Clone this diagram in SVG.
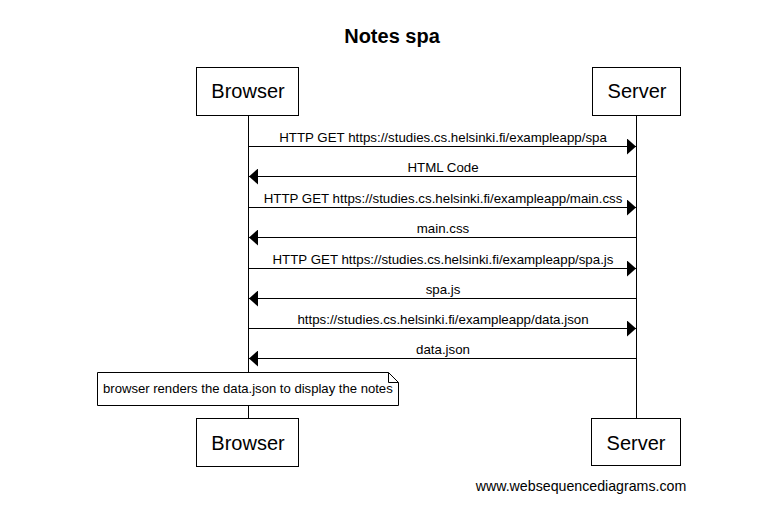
<svg xmlns="http://www.w3.org/2000/svg" width="781" height="516" viewBox="0 0 781 516">
<style>
text{font-family:"Liberation Sans",Arial,sans-serif;fill:#000}
.box{fill:#fff;stroke:#000;stroke-width:1}
.pt{font-size:20px;text-anchor:middle}
.lbl{font-size:13.3px;text-anchor:middle}
.line{stroke:#000;stroke-width:1;fill:none}
</style>
<defs>
<marker id="ah" markerWidth="9" markerHeight="16" refX="9" refY="8" orient="auto" markerUnits="userSpaceOnUse">
<polygon points="0,0 9,8 0,16" fill="#000"/>
</marker>
</defs>
<rect width="781" height="516" fill="#fff"/>
<text x="392" y="43" font-size="20" font-weight="bold" text-anchor="middle">Notes spa</text>
<g id="lifelines">
<line class="line" x1="248.5" y1="115" x2="248.5" y2="418"/>
<line class="line" x1="636.5" y1="115" x2="636.5" y2="418"/>
</g>
<g id="connectors">
<line class="line" x1="248.5" y1="146.5" x2="636" y2="146.5" marker-end="url(#ah)"/>
<text class="lbl" x="443" y="142">HTTP GET https://studies.cs.helsinki.fi/exampleapp/spa</text>
<line class="line" x1="636.5" y1="176.5" x2="249" y2="176.5" marker-end="url(#ah)"/>
<text class="lbl" x="443" y="172">HTML Code</text>
<line class="line" x1="248.5" y1="207.5" x2="636" y2="207.5" marker-end="url(#ah)"/>
<text class="lbl" x="443" y="203">HTTP GET https://studies.cs.helsinki.fi/exampleapp/main.css</text>
<line class="line" x1="636.5" y1="237.5" x2="249" y2="237.5" marker-end="url(#ah)"/>
<text class="lbl" x="443" y="233">main.css</text>
<line class="line" x1="248.5" y1="268.5" x2="636" y2="268.5" marker-end="url(#ah)"/>
<text class="lbl" x="443" y="264">HTTP GET https://studies.cs.helsinki.fi/exampleapp/spa.js</text>
<line class="line" x1="636.5" y1="298.5" x2="249" y2="298.5" marker-end="url(#ah)"/>
<text class="lbl" x="443" y="294">spa.js</text>
<line class="line" x1="248.5" y1="328.5" x2="636" y2="328.5" marker-end="url(#ah)"/>
<text class="lbl" x="443" y="324">https://studies.cs.helsinki.fi/exampleapp/data.json</text>
<line class="line" x1="636.5" y1="358.5" x2="249" y2="358.5" marker-end="url(#ah)"/>
<text class="lbl" x="443" y="354">data.json</text>
</g>
<g id="browser-top">
<rect class="box" x="196.5" y="67.5" width="102" height="48"/>
<text class="pt" x="248" y="98">Browser</text>
</g>
<g id="server-top">
<rect class="box" x="592.5" y="67.5" width="88" height="48"/>
<text class="pt" x="637" y="98">Server</text>
</g>
<g id="note">
<path class="box" d="M97.5,372.5 H388.5 L398.5,382.5 V405.5 H97.5 Z"/>
<path class="line" d="M388.5,372.5 V382.5 H398.5"/>
<text x="103" y="393" font-size="13.1">browser renders the data.json to display the notes</text>
</g>
<g id="browser-bottom">
<rect class="box" x="196.5" y="418.5" width="102" height="48"/>
<text class="pt" x="248" y="450">Browser</text>
</g>
<g id="server-bottom">
<rect class="box" x="591.5" y="418.5" width="89" height="47"/>
<text class="pt" x="636" y="450">Server</text>
</g>
<text x="581" y="491" font-size="14.2" text-anchor="middle">www.websequencediagrams.com</text>
</svg>
